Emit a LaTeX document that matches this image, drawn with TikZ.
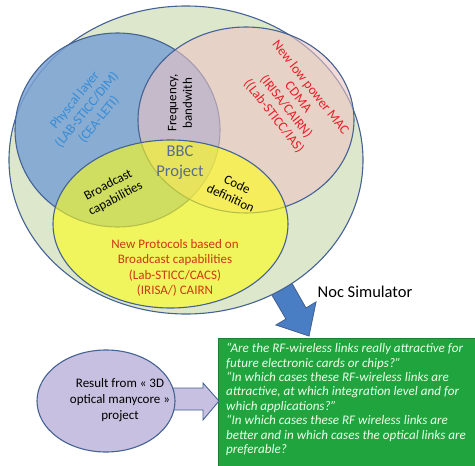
\documentclass[tikz,border=0pt]{standalone}
\usepackage{fontspec}
\setmainfont{Carlito}
\usepackage{tikz}
\usetikzlibrary{shapes.geometric}

\definecolor{outerfill}{RGB}{221,231,203}
\definecolor{edgeblue}{RGB}{68,98,148}
\definecolor{physfill}{RGB}{122,162,212}
\definecolor{macfill}{RGB}{236,196,195}
\definecolor{protofill}{RGB}{255,255,20}
\definecolor{phystext}{RGB}{55,140,215}
\definecolor{mactext}{RGB}{232,30,40}
\definecolor{prototext}{RGB}{205,55,20}
\definecolor{bbctext}{RGB}{88,108,145}
\definecolor{arrowblue}{RGB}{74,126,196}
\definecolor{lavender}{RGB}{200,192,224}
\definecolor{boxgreen}{RGB}{32,164,62}

\begin{document}
\begin{tikzpicture}[x=1pt,y=-1pt]
\tikzstyle{every node}+=[inner sep=0pt]
\tikzset{
  venn/.style={draw=edgeblue, line width=1.1pt},
  setlabel/.style={align=center, font=\fontsize{13}{15.5}\selectfont},
  blockarrow/.style={draw=edgeblue, line width=0.9pt, line join=miter}
}
\useasboundingbox (0,0) rectangle (475,466);
% arrow to the simulator, tail hidden under the outer set
\draw [blockarrow, fill=arrowblue] (286,273) -- (306,308) -- (316,302) -- (309,336)
  -- (276,325) -- (286,319) -- (266,285) -- cycle;
% the sets
\draw [venn, fill=outerfill] (186,160) ellipse (177 and 154);
\draw [venn, fill=physfill, fill opacity=0.85] (117.5,130) ellipse (102.5 and 97);
\draw [venn, fill=macfill, fill opacity=0.6] (246,120) ellipse (108 and 93);
\draw [venn, fill=protofill, fill opacity=0.6] (170.5,224) ellipse (117.5 and 84);
% labels of the sets
\node (phys) [setlabel, text=phystext, font=\fontsize{13.5}{15.5}\selectfont, rotate=51]
  at (87,110) {Physcal layer\\(LAB-STICC/DIM)\\(CEA-LETI)};
\node (freq) [setlabel, rotate=90] at (180,103) {Frequency,\\bandwith};
\node (mac) [setlabel, text=mactext, font=\fontsize{13.5}{15.5}\selectfont, rotate=-52]
  at (292,102) {New low power MAC\\CDMA\\(IRISA/CAIRN)\\((Lab-STICC/IAS)};
\node (bbc) [align=center, text=bbctext, font=\fontsize{16.5}{20}\selectfont] at (180,163)
  {BBC\\Project};
\node (bcast) [setlabel, rotate=28] at (112,192) {Broadcast\\capabilities};
\node (code) [setlabel, rotate=-25] at (234,191) {Code\\definition};
\node (proto) [setlabel, text=prototext] at (175,268)
  {New Protocols based on\\Broadcast capabilities\\(Lab-STICC/CACS)\\(IRISA/) CAIRN};
\node (noc) [font=\fontsize{16.5}{20}\selectfont] at (365,292) {Noc Simulator};
% questions
\node (q) [draw=boxgreen!80!black, fill=boxgreen, anchor=north west,
  minimum width=257pt, minimum height=128pt] at (218,338) {};
\node (qtext) [anchor=north west, align=left, text=white!92!green,
  font=\fontsize{13.1}{14.4}\selectfont\itshape] at (226,343)
  {“Are the RF-wireless links really attractive for\\
   future electronic cards or chips?”\\
   “In which cases these RF-wireless links are\\
   attractive, at which integration level and for\\
   which applications?”\\
   “In which cases these RF wireless links are\\
   better and in which cases the optical links are\\
   preferable?};
% optical result feeding the questions
\draw [blockarrow, fill=lavender] (165,388) -- (203,388) -- (203,383) -- (219,401)
  -- (203,420) -- (203,410) -- (165,410) -- cycle;
\node (res) [ellipse, draw=edgeblue, line width=1.1pt, fill=lavender,
  minimum width=138pt, minimum height=102pt] at (106,401) {};
\node (restext) [align=center, font=\fontsize{13}{16}\selectfont] at (120,400)
  {Result from « 3D\\optical manycore »\\project};
\end{tikzpicture}
\end{document}
